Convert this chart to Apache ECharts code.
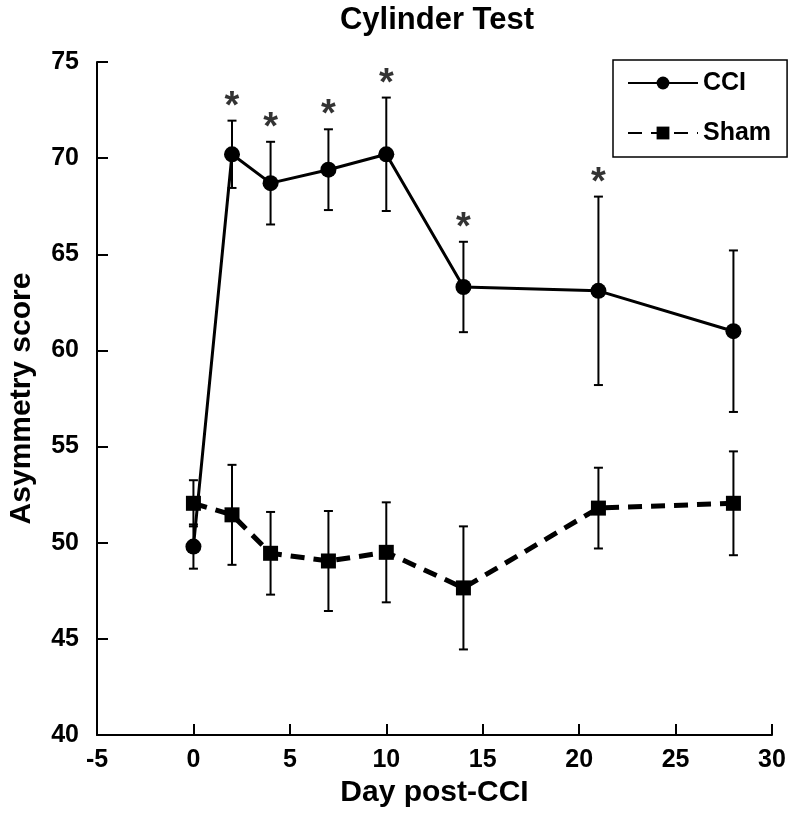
<!DOCTYPE html>
<html>
<head>
<meta charset="utf-8">
<script src="https://cdn.jsdelivr.net/npm/echarts@6/dist/echarts.min.js"></script>
<style>
  html, body { margin: 0; padding: 0; background: #fff; }
  #chart { width: 792px; height: 815px; }
</style>
</head>
<body>
<div id="chart"></div>
<script>
// values (mean and +/- error per day)
var days = [0, 2, 4, 7, 10, 14, 21, 28];
var cciMean = [49.8, 70.2, 68.7, 69.4, 70.2, 63.3, 63.1, 61.0];
var cciErr = [1.15, 1.75, 2.15, 2.1, 2.95, 2.35, 4.9, 4.2];
var shamMean = [52.05, 51.45, 49.45, 49.05, 49.5, 47.65, 51.8, 52.05];
var shamErr = [1.2, 2.6, 2.15, 2.6, 2.6, 3.2, 2.1, 2.7];
var sigDays = [2, 4, 7, 10, 14, 21];
var xTicks = [-5, 30, 5];
var yTicks = [40, 75, 5];

var font = "'Liberation Sans', Arial, sans-serif";
var chart = echarts.init(document.getElementById('chart'));

function pairs(xs, ys) {
    return xs.map(function (x, i) { return [x, ys[i]]; });
}
function bars(xs, m, e) {
    return xs.map(function (x, i) { return [x, m[i] - e[i], m[i] + e[i]]; });
}
// asterisks sit on top of the CCI upper error
var sigPts = sigDays.map(function (d) {
    var i = days.indexOf(d);
    return [d, cciMean[i] + cciErr[i]];
});

function errRender(params, api) {
    var lo = api.coord([api.value(0), api.value(1)]);
    var hi = api.coord([api.value(0), api.value(2)]);
    var w = 4.5;
    var st = { stroke: '#000', lineWidth: 2 };
    return {
        type: 'group',
        children: [
            { type: 'line', shape: { x1: lo[0], y1: lo[1], x2: hi[0], y2: hi[1] }, style: st },
            { type: 'line', shape: { x1: lo[0] - w, y1: lo[1], x2: lo[0] + w, y2: lo[1] }, style: st },
            { type: 'line', shape: { x1: hi[0] - w, y1: hi[1], x2: hi[0] + w, y2: hi[1] }, style: st }
        ]
    };
}

var option = {
    backgroundColor: '#fff',
    animation: false,
    title: {
        text: 'Cylinder Test',
        left: 432,
        textAlign: 'center',
        top: 0,
        textStyle: { fontFamily: font, fontSize: 31, fontWeight: 'bold', color: '#000' }
    },
    legend: {
        orient: 'vertical',
        left: 613,
        top: 60,
        data: ['CCI', 'Sham'],
        borderColor: '#000',
        borderWidth: 1.5,
        borderRadius: 0,
        padding: [9, 16, 10, 14],
        itemGap: 22,
        itemWidth: 70,
        itemHeight: 16,
        textStyle: { fontFamily: font, fontSize: 25, lineHeight: 28, fontWeight: 'bold', color: '#000' }
    },
    grid: { left: 97, right: 20, top: 62, bottom: 80, containLabel: false, outerBoundsMode: 'none' },
    xAxis: {
        type: 'value',
        min: xTicks[0], max: xTicks[1], interval: xTicks[2],
        name: 'Day post-CCI',
        nameLocation: 'middle',
        nameGap: 40,
        nameTextStyle: { fontFamily: font, fontSize: 30, fontWeight: 'bold', color: '#000' },
        axisLine: { lineStyle: { color: '#000', width: 2 } },
        axisTick: { inside: true, length: 11, lineStyle: { color: '#000', width: 2 } },
        axisLabel: { margin: 13, fontFamily: font, fontSize: 25, fontWeight: 'bold', color: '#000' },
        splitLine: { show: false }
    },
    yAxis: {
        type: 'value',
        min: yTicks[0], max: yTicks[1], interval: yTicks[2],
        name: 'Asymmetry score',
        nameLocation: 'middle',
        nameGap: 60,
        nameTextStyle: { fontFamily: font, fontSize: 30, fontWeight: 'bold', color: '#000' },
        axisLine: { show: true, onZero: false, lineStyle: { color: '#000', width: 2 } },
        axisTick: { show: true, inside: true, length: 11, lineStyle: { color: '#000', width: 2 } },
        axisLabel: { margin: 18, fontFamily: font, fontSize: 25, fontWeight: 'bold', color: '#000' },
        splitLine: { show: false }
    },
    series: [
        {
            name: 'CCI err',
            type: 'custom',
            renderItem: errRender,
            encode: { x: 0, y: [1, 2] },
            data: bars(days, cciMean, cciErr),
            z: 1
        },
        {
            name: 'Sham err',
            type: 'custom',
            renderItem: errRender,
            encode: { x: 0, y: [1, 2] },
            data: bars(days, shamMean, shamErr),
            z: 1
        },
        {
            name: 'CCI',
            type: 'line',
            data: pairs(days, cciMean),
            symbol: 'circle',
            symbolSize: 16,
            showAllSymbol: true,
            itemStyle: { color: '#000' },
            lineStyle: { color: '#000', width: 3 },
            z: 3
        },
        {
            name: 'Sham',
            type: 'line',
            data: pairs(days, shamMean),
            symbol: 'rect',
            symbolSize: 15,
            showAllSymbol: true,
            itemStyle: { color: '#000' },
            lineStyle: { color: '#000', width: 5, type: [14, 9] },
            z: 2
        },
        {
            name: 'sig',
            type: 'scatter',
            data: sigPts,
            symbolSize: 1,
            itemStyle: { color: 'rgba(0,0,0,0)' },
            label: {
                show: true,
                formatter: '*',
                position: 'top',
                distance: -6,
                fontFamily: font,
                fontSize: 38,
                fontWeight: 'bold',
                color: '#000'
            },
            silent: true,
            z: 4
        }
    ]
};

chart.setOption(option);
</script>
</body>
</html>
